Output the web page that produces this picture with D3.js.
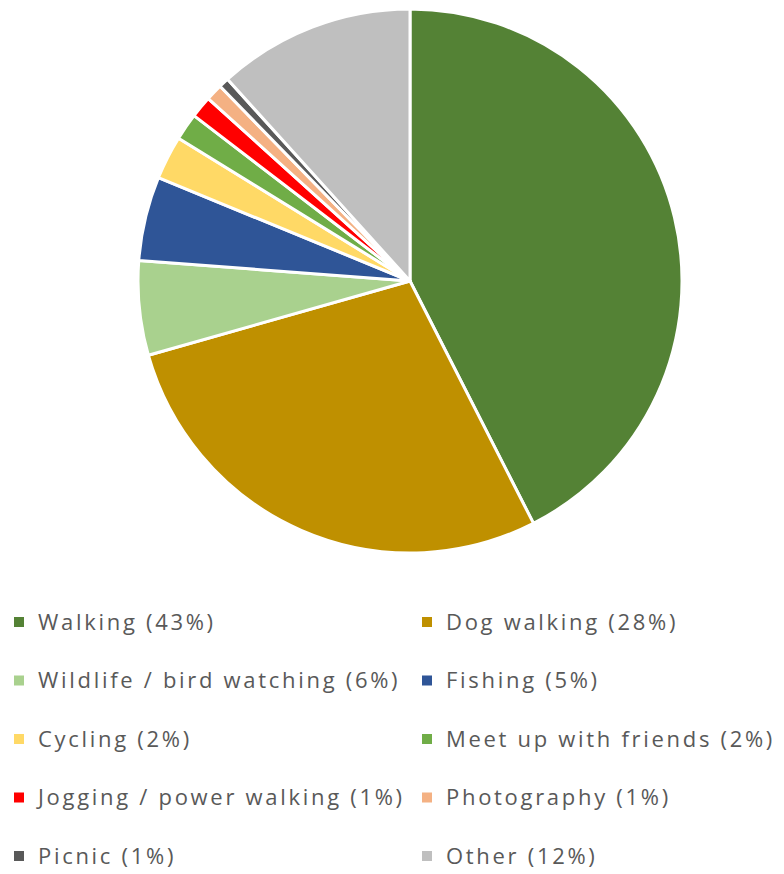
<!DOCTYPE html>
<html>
<head>
<meta charset="utf-8">
<script src="https://cdn.jsdelivr.net/npm/d3@7.9.0/dist/d3.min.js"></script>
<style>
  body { margin: 0; background: #fff; }
  svg { display: block; }
</style>
</head>
<body>
<svg id="chart" width="784" height="874"></svg>
<script>
// activity shares, legend labels keep the rounded %
const activities = ["Walking", "Dog walking", "Wildlife / bird watching", "Fishing", "Cycling",
  "Meet up with friends", "Jogging / power walking", "Photography", "Picnic", "Other"];
const shares = [42.5, 28.1, 5.6, 5.0, 2.6, 1.6, 1.3, 1.0, 0.6, 11.7];
const legendPct = ["43%", "28%", "6%", "5%", "2%", "2%", "1%", "1%", "1%", "12%"];
const colours = ["#548235", "#bf9000", "#a9d18e", "#2f5597", "#ffd966",
  "#70ad47", "#ff0000", "#f4b183", "#595959", "#bfbfbf"];

const data = activities.map((name, i) => ({ name, value: shares[i], pct: legendPct[i] }));

const svg = d3.select("#chart");
const cx = 410, cy = 281, radius = 272;

const color = d3.scaleOrdinal().domain(activities).range(colours);
const pie = d3.pie().value(d => d.value).sort(null);
const arc = d3.arc().innerRadius(0).outerRadius(radius);

const g = svg.append("g").attr("transform", `translate(${cx},${cy})`);
g.selectAll("path")
  .data(pie(data))
  .enter()
  .append("path")
  .attr("d", arc)
  .attr("fill", d => color(d.data.name))
  .attr("stroke", "#fff")
  .attr("stroke-width", 3)
  .attr("stroke-linejoin", "round");

// legend, two columns
const colX = [14, 422];
const rowY = d3.scaleLinear().domain([0, 4]).range([622, 856]);

const items = svg.append("g").selectAll("g")
  .data(data)
  .enter()
  .append("g")
  .attr("transform", (d, i) => `translate(${colX[i % 2]},${rowY(Math.floor(i / 2))})`);

items.append("rect")
  .attr("x", 0).attr("y", -5)
  .attr("width", 10).attr("height", 10)
  .attr("fill", d => color(d.name));

items.append("text")
  .attr("x", 24)
  .attr("dy", "0.35em")
  .attr("font-family", "'Open Sans', sans-serif")
  .attr("font-size", 22)
  .attr("letter-spacing", 2.7)
  .attr("fill", "#595959")
  .text(d => `${d.name} (${d.pct})`);
</script>
</body>
</html>
